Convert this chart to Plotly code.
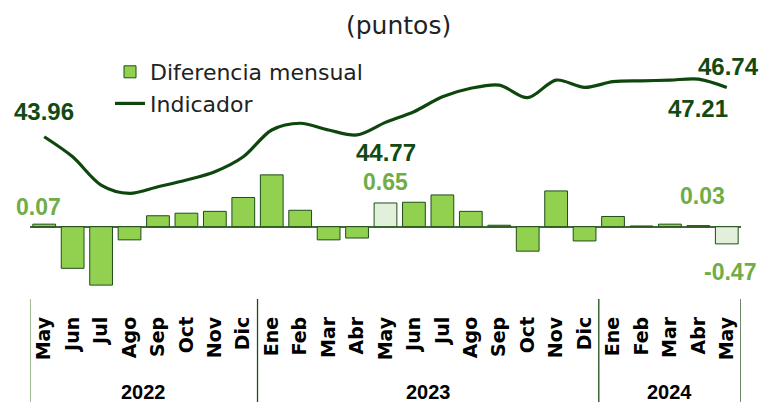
import plotly.graph_objects as go

months = ["May", "Jun", "Jul", "Ago", "Sep", "Oct", "Nov", "Dic",
          "Ene", "Feb", "Mar", "Abr", "May", "Jun", "Jul", "Ago", "Sep", "Oct", "Nov", "Dic",
          "Ene", "Feb", "Mar", "Abr", "May"]
years = ["2022"] * 8 + ["2023"] * 12 + ["2024"] * 5

diferencia = [0.07, -1.14, -1.60, -0.36, 0.30, 0.37, 0.42, 0.80,
              1.42, 0.45, -0.36, -0.31, 0.65, 0.67, 0.87, 0.42, 0.04, -0.67, 0.98, -0.39,
              0.28, 0.02, 0.07, 0.03, -0.47]
indicador = [43.96, 42.83, 41.24, 40.77, 41.14, 41.52, 41.99, 42.83,
             44.34, 44.72, 44.34, 44.06, 44.77, 45.37, 46.21, 46.69, 46.87, 46.16, 47.15, 46.74,
             47.06, 47.11, 47.15, 47.21, 46.74]

line_labels = {0: "43.96", 12: "44.77", 23: "47.21", 24: "46.74"}
bar_labels = {0: "0.07", 12: "0.65", 23: "0.03", 24: "-0.47"}
highlight = {12, 24}

x = list(range(len(months)))

BAR_FILL = "#92D050"
BAR_LIGHT = "#E2EFDA"
BAR_LINE = "#1E4D17"
LINE_COL = "#0E470E"
LBL_DARK = "#124A12"
LBL_LIGHT = "#70AD47"
TXT_FONT = "DejaVu Sans"
NUM_FONT = "Liberation Sans"

bar_colors = [BAR_LIGHT if i in highlight else BAR_FILL for i in x]

fig = go.Figure()
fig.add_trace(go.Bar(
    x=x, y=diferencia, name="Diferencia mensual",
    marker=dict(color=bar_colors, line=dict(color=BAR_LINE, width=1)),
    width=0.8, yaxis="y",
))
fig.add_trace(go.Scatter(
    x=x, y=indicador, name="Indicador", mode="lines",
    line=dict(color=LINE_COL, width=3.2, shape="spline", smoothing=0.9),
    yaxis="y2",
))

annotations = []
line_shift = {0: (0, 25), 12: (0, -30), 23: (0, -29), 24: (2, 21)}
for i, t in line_labels.items():
    dx, dy = line_shift[i]
    annotations.append(dict(x=x[i], y=indicador[i], xref="x", yref="y2", text=t,
                            showarrow=False, xshift=dx, yshift=dy,
                            font=dict(family=NUM_FONT, size=24, color=LBL_DARK, weight="bold")))
bar_shift = {0: (-6, 17), 12: (0, 21), 23: (4, 30), 24: (3, -28)}
for i, t in bar_labels.items():
    dx, dy = bar_shift[i]
    annotations.append(dict(x=x[i], y=diferencia[i], xref="x", yref="y", text=t,
                            showarrow=False, xshift=dx, yshift=dy,
                            font=dict(family=NUM_FONT, size=23, color=LBL_LIGHT, weight="bold")))

# year group labels and separators
groups = []
for i, yv in enumerate(years):
    if not groups or groups[-1][0] != yv:
        groups.append([yv, i, i])
    else:
        groups[-1][2] = i
shapes = []
for yv, a, b in groups:
    annotations.append(dict(x=(a + b) / 2, y=(305 - 392) / 265, xref="x", yref="paper", text=yv,
                            showarrow=False, yanchor="middle",
                            font=dict(family=NUM_FONT, size=20, color="black", weight="bold")))
bounds = [groups[0][1] - 0.5] + [g[2] + 0.5 for g in groups]
for k, bx in enumerate(bounds):
    shapes.append(dict(type="line", xref="x", yref="paper", x0=bx, x1=bx,
                       y0=(305 - 299) / 265, y1=(305 - 402) / 265,
                       line=dict(color="#6E9A5E" if k == 0 else "#1E4D17", width=1.3)))

annotations.append(dict(x=(398 - 30) / 711, y=(305 - 25) / 265, xref="paper", yref="paper",
                        text="(puntos)", showarrow=False, yanchor="middle",
                        font=dict(family=TXT_FONT, size=25, color="#222222")))

# the page body adds an 8px offset; the figure is sized so the plot lands at the same pixels
fig.update_layout(
    width=769, height=394,
    margin=dict(l=22, r=36, t=32, b=97, autoexpand=False),
    plot_bgcolor="white", paper_bgcolor="white",
    showlegend=True,
    legend=dict(x=(110 - 30) / 711, y=(305 - 51) / 265, xanchor="left", yanchor="top",
                bgcolor="rgba(0,0,0,0)", font=dict(family=TXT_FONT, size=22, color="#222222"),
                itemwidth=30, tracegroupgap=0),
    bargap=0.2,
    xaxis=dict(range=[-0.5, 24.5], tickmode="array", tickvals=x, ticktext=months,
               tickangle=-90, showgrid=False, zeroline=False, showline=False, automargin=False,
               ticks="", ticklabelstandoff=7,
               tickfont=dict(family=TXT_FONT, size=19, color="black", weight="bold")),
    yaxis=dict(range=[-2.145, 5.115], showgrid=False, zeroline=True, zerolinecolor="#3C6B35",
               zerolinewidth=1.6, showticklabels=False, showline=False, automargin=False),
    yaxis2=dict(range=[34.48, 49.41], overlaying="y", side="right", showgrid=False,
                zeroline=False, showticklabels=False, showline=False, automargin=False),
    annotations=annotations,
    shapes=shapes,
)

fig.write_html("out.html")
